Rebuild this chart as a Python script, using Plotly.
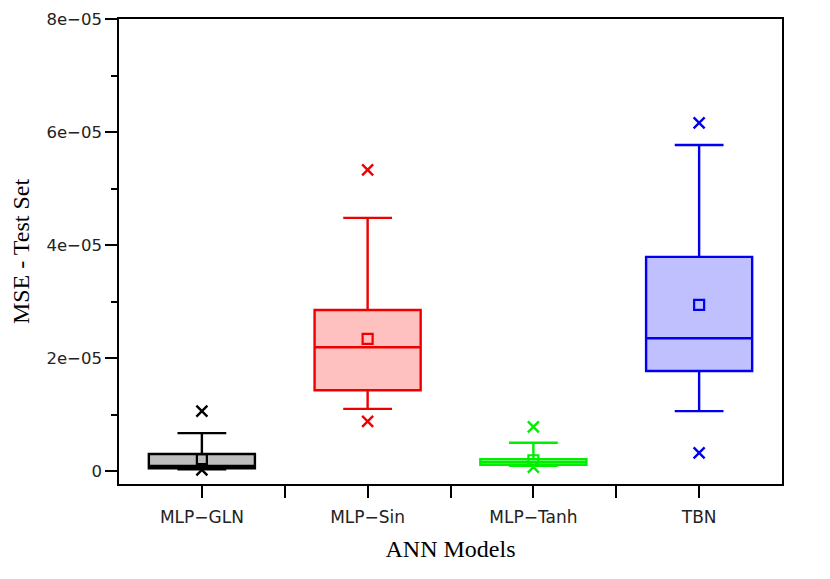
import plotly.graph_objects as go

models = ["MLP\u2212GLN", "MLP\u2212Sin", "MLP\u2212Tanh", "TBN"]
positions = [0, 1, 2, 3]
q1 = [0.05e-5, 1.43e-5, 0.11e-5, 1.77e-5]
median = [0.09e-5, 2.19e-5, 0.16e-5, 2.35e-5]
q3 = [0.30e-5, 2.85e-5, 0.21e-5, 3.79e-5]
lowerfence = [0.03e-5, 1.10e-5, 0.09e-5, 1.06e-5]
upperfence = [0.67e-5, 4.48e-5, 0.50e-5, 5.77e-5]
means = [0.21e-5, 2.34e-5, 0.19e-5, 2.94e-5]
outliers_hi = [1.06e-5, 5.33e-5, 0.78e-5, 6.16e-5]
outliers_lo = [0.02e-5, 0.88e-5, 0.07e-5, 0.32e-5]

line_colors = ["#000000", "#ee0000", "#00ee00", "#0000ee"]
fill_colors = ["#bebebe", "#ffc0c0", "#c0ffc0", "#c0c0ff"]

fig = go.Figure()
for i in range(4):
    fig.add_trace(go.Box(
        x=[positions[i]], q1=[q1[i]], median=[median[i]], q3=[q3[i]],
        lowerfence=[lowerfence[i]], upperfence=[upperfence[i]],
        width=0.64, whiskerwidth=0.46,
        line=dict(color=line_colors[i], width=2.4),
        fillcolor=fill_colors[i], boxpoints=False, showlegend=False,
    ))
    fig.add_trace(go.Scatter(
        x=[positions[i], positions[i]], y=[outliers_hi[i], outliers_lo[i]],
        mode="markers", showlegend=False,
        marker=dict(symbol="x-thin-open", size=11, color=line_colors[i],
                    line=dict(width=2.4, color=line_colors[i])),
    ))
    fig.add_trace(go.Scatter(
        x=[positions[i]], y=[means[i]], mode="markers", showlegend=False,
        marker=dict(symbol="square-open", size=10, color=line_colors[i],
                    line=dict(width=2.2, color=line_colors[i])),
    ))

xtickvals = [0, 0.5, 1, 1.5, 2, 2.5, 3]
xticktext = [models[0], "", models[1], "", models[2], "", models[3]]
ytickvals = [0, 2e-5, 4e-5, 6e-5, 8e-5]
yticktext = ["0", "2e\u221205", "4e\u221205", "6e\u221205", "8e\u221205"]

fig.update_layout(
    width=830, height=579,
    paper_bgcolor="white", plot_bgcolor="white",
    margin=dict(l=111, r=56, t=11, b=103, autoexpand=False),
    font=dict(family="DejaVu Sans", size=16, color="black"),
    xaxis=dict(
        range=[-0.5, 3.5], tickmode="array", tickvals=xtickvals, ticktext=xticktext,
        tickfont=dict(family="DejaVu Sans", size=17, color="#222222"),
        ticklabelstandoff=5,
        ticks="outside", ticklen=12, tickwidth=1.5, tickcolor="black",
        showline=True, linecolor="black", linewidth=1.5, mirror=True,
        showgrid=False, zeroline=False, automargin=False,
        title=dict(text="ANN Models", font=dict(family="Liberation Serif", size=24), standoff=14),
    ),
    yaxis=dict(
        range=[-2.3e-6, 8e-5], tickmode="array", tickvals=ytickvals, ticktext=yticktext,
        tickfont=dict(family="DejaVu Sans", size=16.5, color="#222222"),
        ticks="outside", ticklen=12, tickwidth=1.5, tickcolor="black",
        minor=dict(tickvals=[1e-5, 3e-5, 5e-5, 7e-5], ticks="outside", ticklen=6, tickwidth=1.5, tickcolor="black"),
        showline=True, linecolor="black", linewidth=1.5, mirror=True,
        showgrid=False, zeroline=False, automargin=False,
        title=dict(text="MSE - Test Set", font=dict(family="Liberation Serif", size=24), standoff=14),
    ),
)

fig.write_html("out.html")
